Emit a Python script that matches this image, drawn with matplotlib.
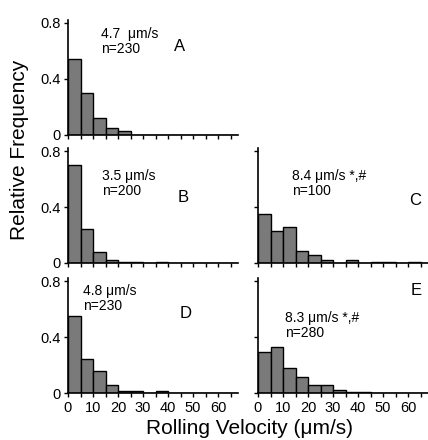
import matplotlib
matplotlib.use('Agg')
import matplotlib.pyplot as plt

plt.rcParams['font.family'] = ['Liberation Sans', 'DejaVu Sans']

bin_left = [0, 5, 10, 15, 20, 25, 30, 35, 40, 45, 50, 55, 60, 65]

freq_A = [0.54, 0.30, 0.12, 0.05, 0.03, 0, 0, 0, 0, 0, 0, 0, 0, 0]
freq_B = [0.70, 0.24, 0.08, 0.025, 0.01, 0.01, 0, 0.01, 0, 0, 0, 0, 0, 0]
freq_C = [0.35, 0.23, 0.26, 0.085, 0.055, 0.025, 0, 0.02, 0, 0.01, 0.01, 0, 0.01, 0]
freq_D = [0.55, 0.24, 0.155, 0.055, 0.015, 0.015, 0, 0.015, 0, 0, 0, 0, 0, 0]
freq_E = [0.29, 0.33, 0.18, 0.115, 0.06, 0.06, 0.025, 0.01, 0.01, 0, 0, 0, 0, 0]

labels = ['A', 'B', 'C', 'D', 'E']
means = ['4.7  \u03bcm/s', '3.5 \u03bcm/s', '8.4 \u03bcm/s *,#', '4.8 \u03bcm/s', '8.3 \u03bcm/s *,#']
counts = ['n=230', 'n=200', 'n=100', 'n=230', 'n=280']

W, H = 428, 440
fig = plt.figure(figsize=(W / 100, H / 100), dpi=100)

# pixel layout: (left, bottom of 0 line) for each panel
panel_pos = {'A': (68, 135), 'B': (68, 263), 'C': (258, 263),
             'D': (68, 393), 'E': (258, 393)}
ax_w = 170
ymax = 0.82
ax_h = ymax / 0.8 * 112

# text spots in data coords: (stat x, stat top y, letter x, letter y)
text_pos = {'A': (13.2, 0.77, 44.8, 0.63),
            'B': (13.6, 0.67, 46.0, 0.47),
            'C': (13.6, 0.67, 62.8, 0.45),
            'D': (6.0, 0.78, 47.2, 0.57),
            'E': (10.8, 0.585, 63.2, 0.735)}

data = {'A': freq_A, 'B': freq_B, 'C': freq_C, 'D': freq_D, 'E': freq_E}

for i, lab in enumerate(labels):
    l, b = panel_pos[lab]
    ax = fig.add_axes([l / W, (H - b) / H, ax_w / W, ax_h / H])
    ax.bar(bin_left, data[lab], width=5, align='edge', color='#7a7a7a',
           edgecolor='black', linewidth=1.0, zorder=2)
    ax.set_xlim(0, 68)
    ax.set_ylim(0, ymax)
    for s in ['top', 'right']:
        ax.spines[s].set_visible(False)
    for s in ['left', 'bottom']:
        ax.spines[s].set_linewidth(1.2)
        ax.spines[s].set_zorder(3)
    ax.set_xticks(bin_left)
    ax.set_yticks([0, 0.4, 0.8])
    ax.tick_params(direction='out', length=3, width=1, labelsize=10.5, pad=2)
    ax.tick_params(axis='x', pad=3)
    if lab in ('D', 'E'):
        ax.set_xticklabels([str(v) if v % 10 == 0 and v <= 60 else '' for v in bin_left])
    else:
        ax.set_xticklabels([])
    if lab in ('C', 'E'):
        ax.set_yticklabels([])
    else:
        ax.set_yticklabels(['0', '0.4', '0.8'])
    sx, sy, lx, ly = text_pos[lab]
    ax.text(sx, sy, means[i] + '\n' + counts[i], fontsize=10, va='top', ha='left',
            linespacing=1.1)
    ax.text(lx, ly, lab, fontsize=12, va='center', ha='center')

fig.text(250 / W, 1 - 428 / H, 'Rolling Velocity (\u03bcm/s)', fontsize=15,
         ha='center', va='center')
fig.text(20 / W, 1 - 150 / H, 'Relative Frequency', fontsize=15,
         ha='center', va='center', rotation=90)

fig.savefig('out.png', dpi=100)
